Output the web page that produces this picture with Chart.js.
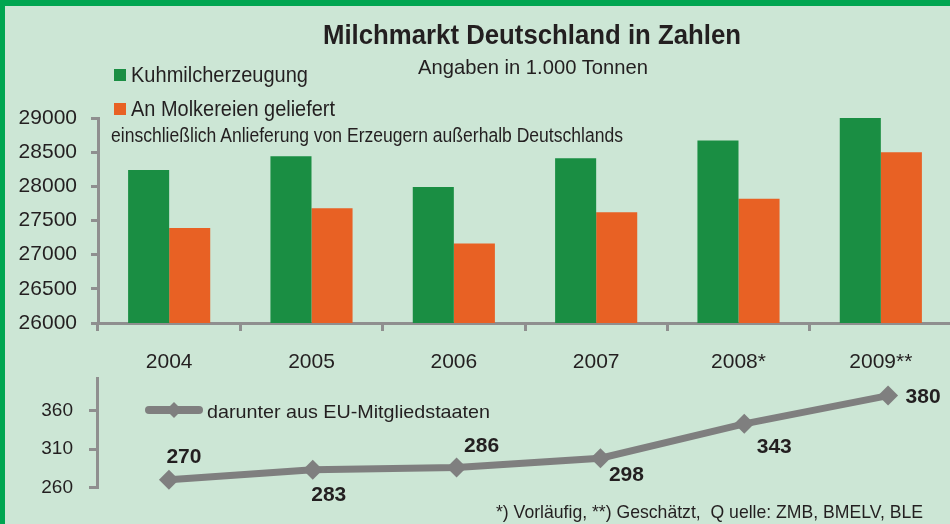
<!DOCTYPE html>
<html><head><meta charset="utf-8">
<script src="https://cdn.jsdelivr.net/npm/chart.js@4.4.1/dist/chart.umd.min.js"></script>
<style>
html,body{margin:0;padding:0;}
body{width:950px;height:524px;overflow:hidden;background:#CCE6D5;position:relative;font-family:'Liberation Sans',Arial,sans-serif;color:#231F20;}
.t{position:absolute;white-space:nowrap;transform-origin:0 0;}
.sq{position:absolute;width:12px;height:12px;}
.wrap{position:absolute;}
#bt{position:absolute;left:0;top:0;width:950px;height:6px;background:#00A651;}
#bl{position:absolute;left:0;top:0;width:5px;height:524px;background:#00A651;}
</style></head><body>
<div class="wrap" style="left:0;top:0;width:952px;height:380px"><canvas id="topChart" width="952" height="380" style="width:952px;height:380px"></canvas></div>
<div class="wrap" style="left:0;top:370px;width:960px;height:154px"><canvas id="botChart" width="960" height="154" style="width:960px;height:154px"></canvas></div>
<div class="t" id="title" style="font-weight:bold">Milchmarkt Deutschland in Zahlen</div>
<div class="t" id="subtitle">Angaben in 1.000 Tonnen</div>
<div class="sq" style="left:114px;top:69px;background:#1A8E43"></div>
<div class="t" id="leg1">Kuhmilcherzeugung</div>
<div class="sq" style="left:114px;top:103px;background:#E86124"></div>
<div class="t" id="leg2">An Molkereien geliefert</div>
<div class="t" id="note">einschließlich Anlieferung von Erzeugern außerhalb Deutschlands</div>
<svg style="position:absolute;left:138px;top:398px" width="72" height="26">
  <line x1="11" y1="12" x2="61" y2="12" stroke="#7F7F7F" stroke-width="8" stroke-linecap="round"/>
  <polygon points="36,4 44,12 36,20 28,12" fill="#7F7F7F"/>
</svg>
<div class="t" id="leg3">darunter aus EU-Mitgliedstaaten</div>
<div class="t" id="foot">*) Vorläufig, **) Geschätzt,&nbsp; Q uelle: ZMB, BMELV, BLE</div>
<div id="bt"></div><div id="bl"></div>
<script>
// ---- data ----
const years = ['2004', '2005', '2006', '2007', '2008*', '2009**'];
const kuhmilcherzeugung = [28240, 28440, 27990, 28410, 28670, 29000];
const anMolkereien = [27390, 27680, 27165, 27620, 27820, 28500];
const euYears = ['2004', '2005', '2006', '2007', '2008', '2009'];
const euMitgliedstaaten = [270, 283, 286, 298, 343, 380];
const topTickValues = [26000, 26500, 27000, 27500, 28000, 28500, 29000];
const bottomTickValues = [260, 310, 360];

// ---- fonts ----
function hasFont(f) {
  const c = document.createElement('canvas').getContext('2d');
  const s = 'mmmmwwwwiiii0123456789';
  c.font = '40px monospace';
  const a = c.measureText(s).width;
  c.font = '40px "' + f + '", monospace';
  return c.measureText(s).width !== a;
}
const NARROW = hasFont('Liberation Sans Narrow');
const FAM = NARROW ? '"Liberation Sans Narrow", "Liberation Sans", Arial, sans-serif' : '"Liberation Sans", Arial, sans-serif';
const SZ = NARROW ? {yTop: 24, xTop: 24, yBot: 22, lab: 24} : {yTop: 21, xTop: 21, yBot: 19, lab: 21};

// ---- html text fitting ----
const texts = [
  ['title', 323, 741, 45, 28],
  ['subtitle', 418, 648, 74, 21],
  ['leg1', 131, 308, 83, 22],
  ['leg2', 131, 335, 117, 22],
  ['note', 111, 623, 143, 19.5],
  ['leg3', 207, 490, 418, 19],
  ['foot', 496, 923, 518, 19]
];
texts.forEach(([id, x1, x2, base, fs]) => {
  const el = document.getElementById(id);
  el.style.fontSize = fs + 'px';
  el.style.lineHeight = fs + 'px';
  el.style.left = x1 + 'px';
  el.style.top = (base - 0.8465 * fs) + 'px';
  const w = el.getBoundingClientRect().width;
  el.style.transform = 'scaleX(' + ((x2 - x1) / w) + ')';
});

const AX = '#8F8F8F';
const TXT = '#231F20';
const plain = v => String(v);

// ---- top chart ----
new Chart(document.getElementById('topChart'), {
  type: 'bar',
  data: {
    labels: years,
    datasets: [
      {label: 'Kuhmilcherzeugung', data: kuhmilcherzeugung, backgroundColor: '#1A8E43'},
      {label: 'An Molkereien geliefert', data: anMolkereien, backgroundColor: '#E86124'}
    ]
  },
  options: {
    responsive: false, animation: false, devicePixelRatio: 1,
    layout: {autoPadding: false, padding: {top: 118, right: 0, bottom: 0, left: 0}},
    datasets: {bar: {categoryPercentage: 0.577, barPercentage: 1.0}},
    plugins: {legend: {display: false}, tooltip: {enabled: false}, title: {display: false}},
    scales: {
      x: {
        offset: true,
        grid: {offset: true, drawOnChartArea: false, drawTicks: true, tickLength: 8, color: AX, lineWidth: 3},
        border: {display: true, color: AX, width: 3},
        ticks: {color: TXT, font: {family: FAM, size: SZ.xTop}, padding: 19, maxRotation: 0},
        afterFit: s => { s.height = 57; s.paddingLeft = 0; s.paddingRight = 0; }
      },
      y: {
        min: 26000, max: 29000,
        afterBuildTicks: s => { s.ticks = topTickValues.map(v => ({value: v})); },
        grid: {drawOnChartArea: false, drawTicks: true, tickLength: 7, color: AX, lineWidth: 3},
        border: {display: true, color: AX, width: 3},
        ticks: {color: TXT, font: {family: FAM, size: SZ.yTop}, padding: 14, callback: plain},
        afterFit: s => { s.width = 98; s.paddingTop = 0; s.paddingBottom = 0; }
      }
    }
  }
});

// ---- bottom chart ----
const pointLabels = {
  id: 'pointLabels',
  afterDatasetsDraw(chart, args, opts) {
    const ctx = chart.ctx;
    const meta = chart.getDatasetMeta(0);
    const vals = chart.data.datasets[0].data;
    ctx.save();
    ctx.font = 'bold ' + opts.size + 'px ' + FAM;
    ctx.fillStyle = TXT;
    ctx.textAlign = 'center';
    ctx.textBaseline = 'middle';
    meta.data.forEach((pt, i) => {
      const o = opts.offsets[i];
      ctx.fillText(String(vals[i]), pt.x + o[0], pt.y + o[1]);
    });
    ctx.restore();
  }
};

new Chart(document.getElementById('botChart'), {
  type: 'line',
  data: {
    labels: euYears,
    datasets: [{
      label: 'darunter aus EU-Mitgliedstaaten', data: euMitgliedstaaten,
      borderColor: '#7F7F7F', borderWidth: 7, backgroundColor: '#7F7F7F',
      pointStyle: 'rectRot', pointRadius: 10, pointBorderWidth: 0, pointBackgroundColor: '#7F7F7F',
      tension: 0, clip: false
    }]
  },
  options: {
    responsive: false, animation: false, devicePixelRatio: 1,
    layout: {autoPadding: false, padding: {top: 8, right: 0, bottom: 36.7, left: 0}},
    plugins: {
      legend: {display: false}, tooltip: {enabled: false},
      pointLabels: {size: SZ.lab, offsets: [[15, -22], [16, 25], [25, -21], [26, 17], [30, 23], [35, 2]]}
    },
    scales: {
      x: {display: false, offset: true},
      y: {
        min: 260, max: 403,
        afterBuildTicks: s => { s.ticks = bottomTickValues.map(v => ({value: v})); },
        grid: {drawOnChartArea: false, drawTicks: true, tickLength: 8, color: AX, lineWidth: 3},
        border: {display: true, color: AX, width: 3},
        ticks: {color: TXT, font: {family: FAM, size: SZ.yBot}, padding: 16, callback: plain},
        afterFit: s => { s.width = 97; s.paddingTop = 0; s.paddingBottom = 0; }
      }
    }
  },
  plugins: [pointLabels]
});
</script>
</body></html>
